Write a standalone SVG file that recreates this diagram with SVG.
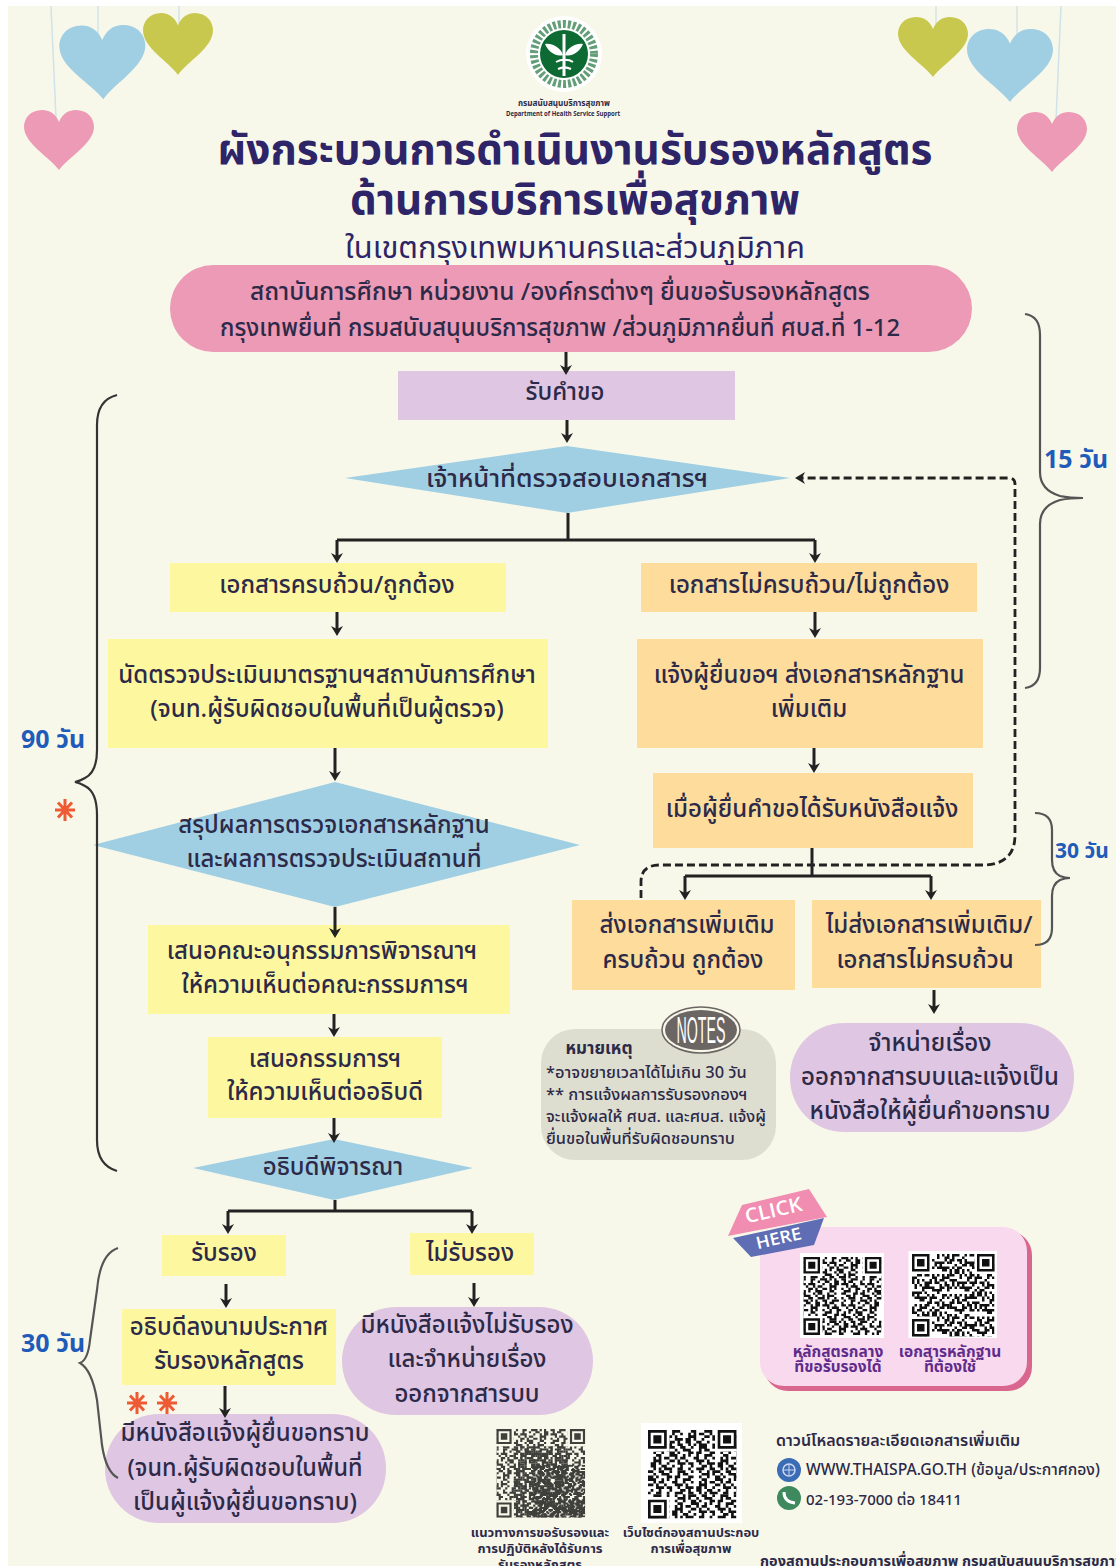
<svg xmlns="http://www.w3.org/2000/svg" width="1116" height="1566" viewBox="0 0 1116 1566">
<style>
text{font-family:"Noto Sans Thai","Noto Sans Thai Looped","Noto Sans","DejaVu Sans",sans-serif;fill:#2c2a48;text-anchor:middle}
.n{font-size:24px;font-weight:500}
.l{text-anchor:start}
.s{font-size:16.400px;font-weight:500}
.sb{font-size:13px;font-weight:700}
.dl{font-size:15.700px;font-weight:500}
.cap{font-size:15.500px;font-weight:700;fill:#5f2c8c}
.day{font-weight:700;fill:#1f5bb8;font-size:25px;text-anchor:start}
.ti{font-weight:700;fill:#2e2468;font-size:42px}
.yl{fill:#fdf8a0}.or{fill:#fddc9c}.pu{fill:#dfc6e2}.bl{fill:#a0cfe3}
.c{fill:none;stroke:#222;stroke-width:3;marker-end:url(#ah)}
.p{fill:none;stroke:#222;stroke-width:3}
.d{fill:none;stroke:#222;stroke-width:2.800;stroke-dasharray:8 4}
.br{fill:none;stroke:#555;stroke-width:2.200}
.str{fill:none;stroke:#cfe3ea;stroke-width:1.500}
.star{fill:none;stroke:#ee5a33;stroke-width:3}
</style>
<defs>
<marker id="ah" markerUnits="userSpaceOnUse" markerWidth="12" markerHeight="14" refX="3" refY="7" orient="auto" viewBox="0 0 12 14"><path d="M0 1L10 7L0 13L3 7Z" fill="#222"/></marker>
<path id="heart" d="M50 20C45 6 36 0 26 0C9 0 0 14 0 28C0 56 36 78 50 100C64 78 100 56 100 28C100 14 91 0 74 0C64 0 55 6 50 20Z"/>
<g id="star" class="star"><path d="M-10 0H10M0-11V11M-7-7.500L7 7.500M-7 7.500L7-7.500"/></g>
<path id="band" fill="none" stroke="#111" stroke-width="1" d="M0 .5h2m2 0h3m2 0h1m2 0h2m2 0h3m1 0h1m1 0h1M1 1.500h1m1 0h2m3 0h1m3 0h1m2 0h1m2 0h2m2 0h2M0 2.500h3m2 0h1m2 0h2m1 0h3m3 0h1m2 0h1m1 0h2M2 3.500h1m1 0h3m3 0h1m2 0h1m1 0h2m3 0h3M0 4.500h1m2 0h1m2 0h2m3 0h2m1 0h1m2 0h2m1 0h1m1 0h1M1 5.500h3m2 0h1m2 0h1m1 0h1m2 0h3m3 0h2M0 6.500h2m3 0h2m1 0h2m3 0h1m1 0h2m2 0h1m2 0h1M2 7.500h2m1 0h1m3 0h3m2 0h1m2 0h1m1 0h3M0 8.500h1m2 0h3m2 0h1m2 0h2m2 0h3m1 0h1m2 0h1"/>
<clipPath id="c33"><rect width="33" height="33"/></clipPath>
<clipPath id="c41"><rect width="41" height="41"/></clipPath>
<g id="noise" clip-path="url(#c33)">
<use href="#band"/><use href="#band" x="25"/>
<use href="#band" x="-9" y="9"/><use href="#band" x="16" y="9"/>
<use href="#band" x="-17" y="18"/><use href="#band" x="8" y="18"/>
<use href="#band" x="-5" y="27"/><use href="#band" x="20" y="27"/>
</g>
<path id="fi" fill-rule="evenodd" fill="#111" d="M0 0h7v7h-7zM1 1v5h5v-5zM2 2h3v3h-3z"/>
<g id="f33"><path d="M0 0h8v8h-8zM25 0h8v8h-8zM0 25h8v8h-8z" fill="#fff"/><use href="#fi"/><use href="#fi" x="26"/><use href="#fi" y="26"/></g>
</defs>

<rect width="1116" height="1566" fill="#fff"/>
<rect x="8" y="6" width="1108" height="1560" fill="#f8f8ea"/>

<g id="decor">
<path class="str" d="M51 6L56 118M98 6V40M179 6V25M936 6V30M1017 6V50M1061 6L1056 120"/>
<use href="#heart" transform="translate(24 110) scale(.70 .60)" fill="#ec9ab5"/>
<use href="#heart" transform="translate(59 26) rotate(-1) scale(.86 .74)" fill="#a0cfe3"/>
<use href="#heart" transform="translate(143 13) scale(.70 .62)" fill="#c9c84e"/>
<use href="#heart" transform="translate(898 17) scale(.70 .60)" fill="#c9c84e"/>
<use href="#heart" transform="translate(967 29) scale(.86 .73)" fill="#a0cfe3"/>
<use href="#heart" transform="translate(1017 112) scale(.70 .60)" fill="#ec9ab5"/>
</g>

<g id="logo">
<circle cx="564" cy="54" r="38" fill="#fff"/>
<circle cx="564" cy="54" r="30" fill="none" stroke="#2f7d4c" stroke-width="8" stroke-dasharray="3 2" opacity=".75"/>
<circle cx="564" cy="54" r="24" fill="#0d6a33"/>
<path d="M564 34V76" fill="none" stroke="#fff" stroke-width="3"/>
<path d="M545 44C552 43 560 47 563 55C557 57 549 53 545 44ZM583 44C576 43 568 47 565 55C571 57 579 53 583 44Z" fill="#fff"/>
<path d="M556 62C561 59 569 59 573 62M558 69C562 67 567 67 571 69" fill="none" stroke="#fff" stroke-width="2"/>
<text x="564" y="106" textLength="92" lengthAdjust="spacingAndGlyphs" style="font-size:8px;font-weight:700">กรมสนับสนุนบริการสุขภาพ</text>
<text x="563" y="116" textLength="114" lengthAdjust="spacingAndGlyphs" style="font-size:6.500px;font-weight:700">Department of Health Service Support</text>
</g>

<g id="title">
<text class="ti" x="575" y="164" textLength="715" lengthAdjust="spacingAndGlyphs">ผังกระบวนการดำเนินงานรับรองหลักสูตร</text>
<text class="ti" x="575" y="214" textLength="450" lengthAdjust="spacingAndGlyphs">ด้านการบริการเพื่อสุขภาพ</text>
<text x="575" y="258" textLength="460" lengthAdjust="spacingAndGlyphs" style="font-size:30px;fill:#2e2468">ในเขตกรุงเทพมหานครและส่วนภูมิภาค</text>
</g>

<g id="start"><rect x="170" y="265" width="802" height="87" rx="43.500" fill="#ec9ab5"/>
<text class="n" x="560" y="300" textLength="620" lengthAdjust="spacingAndGlyphs">สถาบันการศึกษา หน่วยงาน /องค์กรต่างๆ ยื่นขอรับรองหลักสูตร</text>
<text class="n" x="560" y="336" textLength="680" lengthAdjust="spacingAndGlyphs">กรุงเทพยื่นที่ กรมสนับสนุนบริการสุขภาพ /ส่วนภูมิภาคยื่นที่ ศบส.ที่ 1-12</text></g>

<g id="request"><rect class="pu" x="398" y="371" width="337" height="49"/><text class="n" x="565" y="400">รับคำขอ</text></g>
<g id="check"><path class="bl" d="M345 478L567 446L790 478L567 513Z"/><text class="n" x="567" y="487" textLength="282" lengthAdjust="spacingAndGlyphs">เจ้าหน้าที่ตรวจสอบเอกสารฯ</text></g>
<g id="complete"><rect class="yl" x="170" y="563" width="336" height="49"/><text class="n" x="337" y="593">เอกสารครบถ้วน/ถูกต้อง</text></g>
<g id="incomplete"><rect class="or" x="641" y="563" width="336" height="49"/><text class="n" x="809" y="593">เอกสารไม่ครบถ้วน/ไม่ถูกต้อง</text></g>
<g id="inspect"><rect class="yl" x="108" y="639" width="440" height="109"/>
<text class="n" x="327" y="683">นัดตรวจประเมินมาตรฐานฯสถาบันการศึกษา</text>
<text class="n" x="327" y="717">(จนท.ผู้รับผิดชอบในพื้นที่เป็นผู้ตรวจ)</text></g>
<g id="notify"><rect class="or" x="637" y="639" width="346" height="109"/>
<text class="n" x="809" y="683">แจ้งผู้ยื่นขอฯ ส่งเอกสารหลักฐาน</text>
<text class="n" x="809" y="717">เพิ่มเติม</text></g>
<g id="received"><rect class="or" x="653" y="773" width="320" height="75"/><text class="n" x="812" y="817">เมื่อผู้ยื่นคำขอได้รับหนังสือแจ้ง</text></g>
<g id="summary"><path class="bl" d="M93 845L335 782L580 845L335 907Z"/>
<text class="n" x="334" y="833">สรุปผลการตรวจเอกสารหลักฐาน</text>
<text class="n" x="334" y="867">และผลการตรวจประเมินสถานที่</text></g>
<g id="send"><rect class="or" x="572" y="900" width="223" height="90"/>
<text class="n" x="687" y="933">ส่งเอกสารเพิ่มเติม</text>
<text class="n" x="683" y="968">ครบถ้วน ถูกต้อง</text></g>
<g id="nosend"><rect class="or" x="812" y="900" width="229" height="88"/>
<text class="n" x="929" y="933">ไม่ส่งเอกสารเพิ่มเติม/</text>
<text class="n" x="925" y="968">เอกสารไม่ครบถ้วน</text></g>
<g id="subcommittee"><rect class="yl" x="148" y="925" width="362" height="89"/>
<text class="n" x="322" y="959">เสนอคณะอนุกรรมการพิจารณาฯ</text>
<text class="n" x="325" y="993">ให้ความเห็นต่อคณะกรรมการฯ</text></g>
<g id="committee"><rect class="yl" x="208" y="1037" width="234" height="81"/>
<text class="n" x="325" y="1067">เสนอกรรมการฯ</text>
<text class="n" x="325" y="1100">ให้ความเห็นต่ออธิบดี</text></g>
<g id="dismiss"><rect class="pu" x="790" y="1023" width="284" height="109" rx="54"/>
<text class="n" x="930" y="1051">จำหน่ายเรื่อง</text>
<text class="n" x="930" y="1085">ออกจากสารบบและแจ้งเป็น</text>
<text class="n" x="930" y="1119">หนังสือให้ผู้ยื่นคำขอทราบ</text></g>
<g id="dg"><path class="bl" d="M193 1168L334 1139L473 1168L334 1200Z"/><text class="n" x="333" y="1175">อธิบดีพิจารณา</text></g>
<g id="approve"><rect class="yl" x="162" y="1235" width="124" height="41"/><text class="n" x="224" y="1261">รับรอง</text></g>
<g id="reject"><rect class="yl" x="410" y="1233" width="124" height="42"/><text class="n" x="470" y="1261">ไม่รับรอง</text></g>
<g id="announce"><rect class="yl" x="122" y="1309" width="214" height="76"/>
<text class="n" x="229" y="1335">อธิบดีลงนามประกาศ</text>
<text class="n" x="229" y="1369">รับรองหลักสูตร</text></g>
<g id="rejectletter"><rect class="pu" x="342" y="1307" width="251" height="108" rx="54"/>
<text class="n" x="467" y="1333">มีหนังสือแจ้งไม่รับรอง</text>
<text class="n" x="467" y="1367">และจำหน่ายเรื่อง</text>
<text class="n" x="467" y="1402">ออกจากสารบบ</text></g>
<g id="approveletter"><rect class="pu" x="105" y="1414" width="281" height="109" rx="54"/>
<text class="n" x="245" y="1441">มีหนังสือแจ้งผู้ยื่นขอทราบ</text>
<text class="n" x="245" y="1476" textLength="235" lengthAdjust="spacingAndGlyphs">(จนท.ผู้รับผิดชอบในพื้นที่</text>
<text class="n" x="245" y="1510">เป็นผู้แจ้งผู้ยื่นขอทราบ)</text></g>

<g id="connectors">
<path class="c" d="M566 352V368"/>
<path class="c" d="M567 420V436"/>
<path class="p" d="M568 513V540M337 540H815"/>
<path class="c" d="M337 540V556"/>
<path class="c" d="M815 540V556"/>
<path class="c" d="M337 612V629"/>
<path class="c" d="M815 612V631"/>
<path class="c" d="M335 748V774"/>
<path class="c" d="M814 748V766"/>
<path class="c" d="M335 907V931"/>
<path class="c" d="M334 1014V1030"/>
<path class="c" d="M334 1118V1136"/>
<path class="p" d="M335 1200V1211M228 1211H472"/>
<path class="c" d="M228 1211V1227"/>
<path class="c" d="M472 1211V1227"/>
<path class="c" d="M226 1284V1301"/>
<path class="c" d="M474 1283V1300"/>
<path class="c" d="M225 1386V1411"/>
<path class="p" d="M812 848V876M685 876H931"/>
<path class="c" d="M685 876V893"/>
<path class="c" d="M931 876V893"/>
<path class="c" d="M934 990V1007"/>
<path class="d" style="marker-end:url(#ah)" d="M641 898V882Q641 865 660 865H982Q1015 865 1015 835V484Q1015 478 1009 478H802"/>
</g>

<g id="braces">
<path class="br" d="M1025 314Q1040 316 1040 335V472Q1040 490 1060 496Q1070 498 1083 498Q1070 498 1060 500Q1040 506 1040 524V668Q1040 686 1025 688"/>
<path class="br" style="stroke:#333" d="M117 395Q97 400 97 425V750Q97 772 85 778Q80 781 75 782Q80 783 85 786Q97 792 97 815V1140Q97 1165 117 1171"/>
<path class="br" d="M1035 813Q1052 813 1052 830V860Q1052 872 1060 876Q1065 878 1070 878Q1065 878 1060 880Q1052 884 1052 896V928Q1052 945 1035 945"/>
<path class="br" d="M118 1248Q100 1254 97 1290L90 1340Q88 1360 80 1363Q92 1370 97 1400L102 1445Q106 1472 118 1478"/>
<text class="day" x="1044" y="468">15 วัน</text>
<text class="day" x="21" y="748">90 วัน</text>
<text class="day" x="1055" y="858" style="font-size:21px">30 วัน</text>
<text class="day" x="21" y="1352">30 วัน</text>
<use href="#star" x="65" y="810"/>
<use href="#star" x="137" y="1403"/>
<use href="#star" x="167" y="1403"/>
</g>

<g id="notes"><rect x="541" y="1029" width="235" height="131" rx="34" fill="#deded0"/>
<ellipse cx="701" cy="1030" rx="39" ry="23" fill="#f8f8ea" stroke="#6b6563" stroke-width="1.500"/>
<ellipse cx="701" cy="1030" rx="36" ry="20" fill="#6b6563"/>
<text x="701" y="1043" style="font-size:36px;fill:#fff;font-family:'Liberation Sans Narrow','Liberation Sans',sans-serif" textLength="49" lengthAdjust="spacingAndGlyphs">NOTES</text>
<text x="599" y="1054" style="font-size:17px;font-weight:700">หมายเหตุ</text>
<text class="s l" x="546" y="1078">*อาจขยายเวลาได้ไม่เกิน 30 วัน</text>
<text class="s l" x="546" y="1100">** การแจ้งผลการรับรองกองฯ</text>
<text class="s l" x="546" y="1122" textLength="220" lengthAdjust="spacingAndGlyphs">จะแจ้งผลให้ ศบส. และศบส. แจ้งผู้</text>
<text class="s l" x="546" y="1144">ยื่นขอในพื้นที่รับผิดชอบทราบ</text></g>

<g id="qrpanel"><rect x="764" y="1231" width="268" height="160" rx="24" fill="#d9668f"/><rect x="760" y="1227" width="267" height="159" rx="24" fill="#f9d9ee"/>
<rect x="800" y="1253" width="84" height="85" fill="#fff"/>
<g transform="translate(803.500 1257) scale(2.360)"><use href="#noise"/><use href="#f33"/></g>
<rect x="908.500" y="1251" width="88.500" height="87" fill="#fff"/>
<g transform="translate(912 1254) scale(2.500)"><use href="#noise" transform="rotate(90 16.500 16.500)"/><use href="#f33"/></g>
<text class="cap" x="838" y="1357">หลักสูตรกลาง</text><text class="cap" x="838" y="1372">ที่ขอรับรองได้</text>
<text class="cap" x="950" y="1357">เอกสารหลักฐาน</text><text class="cap" x="950" y="1372">ที่ต้องใช้</text></g>

<g id="clickhere"><path d="M733 1238L824 1218L814 1245L751 1257Z" fill="#5f6db5"/><path d="M728 1236L742 1205L809 1189L827 1217Z" fill="#f08db0"/>
<text x="775" y="1217" transform="rotate(-13 775 1217)" textLength="58" lengthAdjust="spacingAndGlyphs" style="font-size:20px;font-weight:600;fill:#fff;font-family:'Open Sans',sans-serif">CLICK</text>
<text x="780" y="1244" transform="rotate(-13 780 1244)" textLength="46" lengthAdjust="spacingAndGlyphs" style="font-size:17px;font-weight:600;fill:#fff;font-family:'Open Sans',sans-serif">HERE</text></g>

<g id="bottom">
<g transform="translate(496.500 1429) scale(2.160)" opacity=".8"><g clip-path="url(#c41)"><use href="#noise"/><use href="#noise" x="33" transform="rotate(90 33 16.500)"/><use href="#noise" y="33"/><use href="#noise" x="33" y="33"/><use href="#noise" transform="translate(8 8) rotate(180 16.500 16.500)"/></g><path d="M0 0h8v8h-8zM33 0h8v8h-8zM0 33h8v8h-8z" fill="#f8f8ea"/><use href="#fi"/><use href="#fi" x="34"/><use href="#fi" y="34"/></g>
<rect x="641" y="1423" width="101" height="100" fill="#fff"/>
<g transform="translate(648 1430) scale(2.680)"><use href="#noise" transform="rotate(180 16.500 16.500)"/><use href="#f33"/></g>
<text class="sb" x="540" y="1537">แนวทางการขอรับรองและ</text>
<text class="sb" x="540" y="1553">การปฏิบัติหลังได้รับการ</text>
<text class="sb" x="540" y="1569">รับรองหลักสูตร</text>
<text class="sb" x="691" y="1537">เว็บไซต์กองสถานประกอบ</text>
<text class="sb" x="691" y="1553">การเพื่อสุขภาพ</text>
<text class="l" x="776" y="1446" style="font-size:16px;font-weight:600">ดาวน์โหลดรายละเอียดเอกสารเพิ่มเติม</text>
<circle cx="789" cy="1470" r="12" fill="#3a6db5"/><circle cx="789" cy="1470" r="6" fill="none" stroke="#cfd8f0" stroke-width="1.500"/><path d="M783 1470H795M789 1464V1476" stroke="#cfd8f0"/>
<text class="dl l" x="806" y="1475">WWW.THAISPA.GO.TH (ข้อมูล/ประกาศกอง)</text>
<circle cx="789" cy="1498" r="12" fill="#3e8a5e"/><path d="M784 1492Q784 1502 795 1503" fill="none" stroke="#fff" stroke-width="3"/>
<text class="dl l" x="806" y="1505" style="font-size:15px">02-193-7000 ต่อ 18411</text>
<text class="l" x="760" y="1566" style="font-size:14.500px;font-weight:700">กองสถานประกอบการเพื่อสุขภาพ กรมสนับสนุนบริการสุขภาพ</text>
</g>
</svg>
